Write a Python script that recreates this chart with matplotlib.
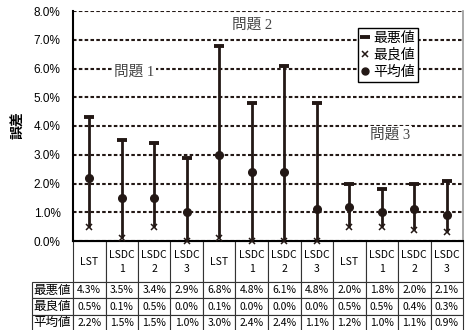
import matplotlib
matplotlib.use('Agg')
import matplotlib.pyplot as plt
from matplotlib.lines import Line2D

plt.rcParams['font.family'] = ['Liberation Sans', 'Noto Sans CJK JP', 'DejaVu Sans']

# ---- data ----
groups = ['LST', 'LSDC\n1', 'LSDC\n2', 'LSDC\n3',
          'LST', 'LSDC\n1', 'LSDC\n2', 'LSDC\n3',
          'LST', 'LSDC\n1', 'LSDC\n2', 'LSDC\n3']
worst = [4.3, 3.5, 3.4, 2.9, 6.8, 4.8, 6.1, 4.8, 2.0, 1.8, 2.0, 2.1]
best = [0.5, 0.1, 0.5, 0.0, 0.1, 0.0, 0.0, 0.0, 0.5, 0.5, 0.4, 0.3]
avg = [2.2, 1.5, 1.5, 1.0, 3.0, 2.4, 2.4, 1.1, 1.2, 1.0, 1.1, 0.9]
row_names = ['最悪値', '最良値', '平均値']
yticks = [0, 1, 2, 3, 4, 5, 6, 7, 8]
problem_labels = ['問題 1', '問題 2', '問題 3']
problem_pos = [(1.38, 5.88), (5.0, 7.51), (9.25, 3.69)]
ylabel = '誤差'

C = '#231815'

fig = plt.figure(figsize=(4.66, 3.30), dpi=100)
W, H = 466, 330
ax = fig.add_axes([73 / W, 1 - 241 / H, 390 / W, 230 / H])

x = list(range(len(worst)))
ax.vlines(x, best, worst, color=C, lw=2.0, zorder=3)
ax.plot(x, worst, ls='none', marker='_', ms=6.5, mew=2.8, color=C, zorder=4)
ax.plot(x, best, ls='none', marker='x', ms=5, mew=1.1, color=C, zorder=4, clip_on=False)
ax.plot(x, avg, ls='none', marker='o', ms=5.5, color=C, zorder=4)

ax.set_xlim(-0.5, len(worst) - 0.5)
ax.set_ylim(0, 8)
ax.set_yticks(yticks)
ax.set_yticklabels([f'{v:.1f}%' for v in yticks])
ax.set_xticks([])
ax.tick_params(axis='y', length=0, pad=9, labelsize=8.5)
ax.yaxis.grid(True, ls=(0, (1.7, 1.1)), lw=1.5, color=C, zorder=1)
ax.set_axisbelow(True)

for s in ['left', 'bottom']:
    ax.spines[s].set_color('black')
    ax.spines[s].set_linewidth(1.5)
ax.spines['top'].set_visible(False)
ax.spines['right'].set_color('#9a9a9a')
ax.spines['right'].set_linewidth(1.2)

fig.text(18 / W, 1 - 125 / H, ylabel, rotation=90, ha='center', va='center',
         fontsize=10, family=['Noto Sans CJK JP'], fontweight='bold')

for lab, (px, py) in zip(problem_labels, problem_pos):
    ax.text(px, py, lab, ha='center', va='center', fontsize=10.5,
            family=['Liberation Serif', 'Noto Sans CJK JP'], color='#444444',
            bbox=dict(facecolor='white', edgecolor='none', pad=1.5), zorder=2)

handles = [Line2D([], [], ls='none', marker='_', ms=6.5, mew=2.8, color=C),
           Line2D([], [], ls='none', marker='x', ms=5, mew=1.1, color=C),
           Line2D([], [], ls='none', marker='o', ms=5, color=C)]
leg = ax.legend(handles, row_names, loc='upper left',
                bbox_to_anchor=((358 - 73) / 390, (241 - 28) / 230),
                prop={'family': ['Noto Sans CJK JP'], 'size': 10},
                handlelength=0.6, handletextpad=0.3, borderpad=0.2,
                labelspacing=0.22, borderaxespad=0, fancybox=False,
                framealpha=1, edgecolor='black')
leg.get_frame().set_linewidth(1.0)
leg.set_zorder(5)

cell_text = [[f'{v:.1f}%' for v in worst],
             [f'{v:.1f}%' for v in best],
             [f'{v:.1f}%' for v in avg]]
tbl = ax.table(cellText=cell_text, rowLabels=row_names, colLabels=groups,
               cellLoc='center', rowLoc='center', colLoc='center',
               colWidths=[32.5 / 390] * 12,
               bbox=[0, -90 / 230, 1, 90 / 230])
tbl._autoColumns = []
tbl.auto_set_font_size(False)
for (r, c), cell in tbl.get_celld().items():
    cell.set_height(41 if r == 0 else 16.3)
    cell.set_edgecolor('#333333')
    cell.set_linewidth(0.8)
    t = cell.get_text()
    if c == -1:
        cell.set_width(41 / 390)
        t.set_fontsize(9)
        t.set_fontfamily(['Noto Sans CJK JP'])
    else:
        cell.set_width(32.5 / 390)
        t.set_fontsize(7.5)
        t.set_fontfamily(['Noto Sans CJK JP'])
        if r == 0:
            t.set_linespacing(1.5)

fig.savefig('out.png', dpi=100)
